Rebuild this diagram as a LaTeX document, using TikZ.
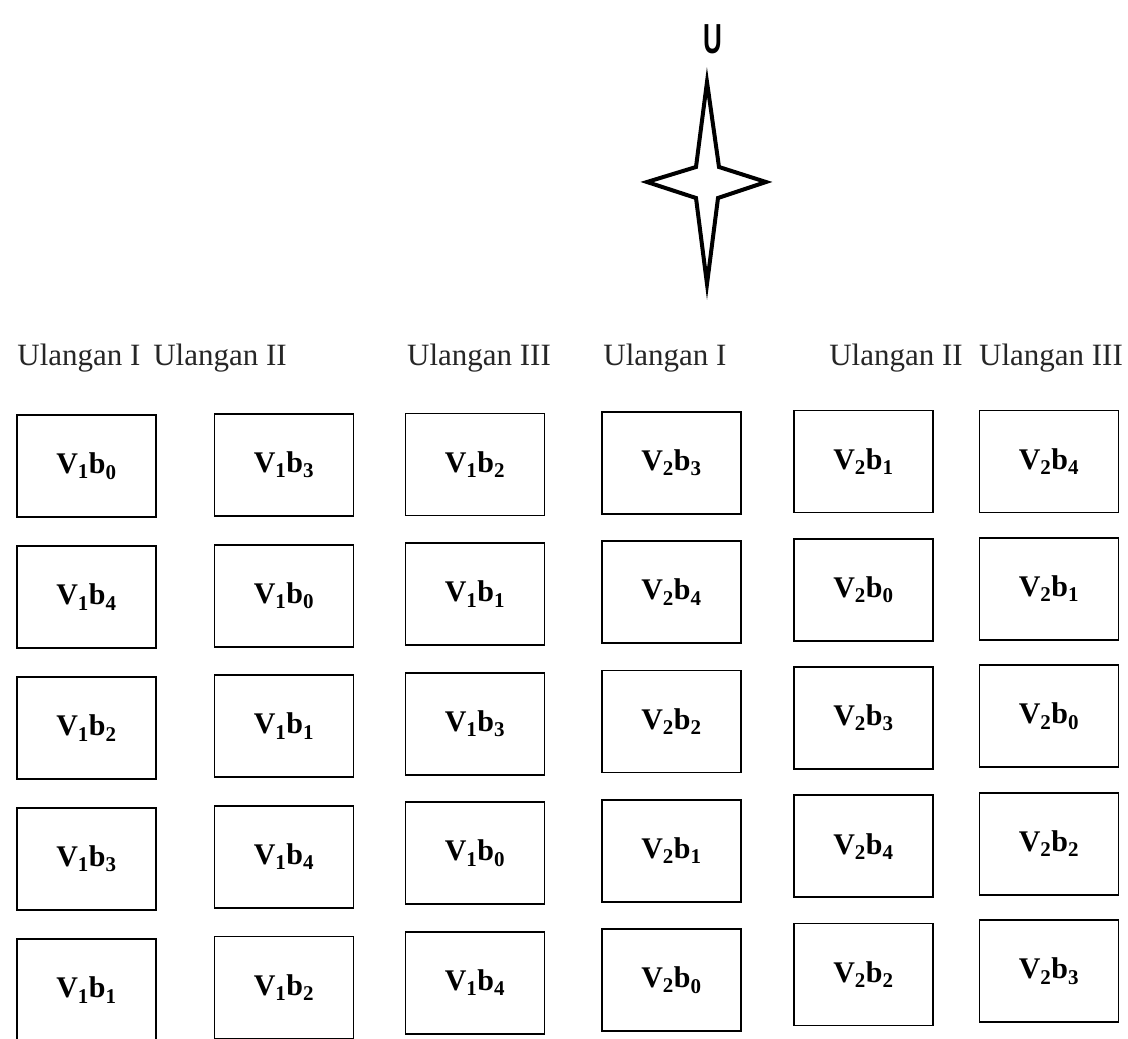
\documentclass[tikz,border=0pt]{standalone}
\usepackage{fontspec}
\setmainfont{Liberation Serif}
\newfontfamily\compassfont{Liberation Sans}
\usetikzlibrary{positioning}

\tikzset{
  plot/.style={draw, line width=1.8pt, minimum width=139pt, minimum height=102pt,
    inner sep=0pt, font=\fontsize{30}{36}\selectfont\bfseries},
  rep/.style={font=\fontsize{31}{37}\selectfont, text=black!85}
}

\begin{document}
\begin{tikzpicture}[x=1pt, y=-1pt]
  \useasboundingbox (0,0) rectangle (1128,1039);

  % --- north arrow ---
  \node[font=\compassfont\bfseries\fontsize{42}{42}\selectfont, xscale=0.62] (north) at (713,39) {U};
  \draw[line width=4pt, line join=miter, fill=white]
    (707,82) -- (719,167) -- (766,182) -- (718,198) -- (707,284)
    -- (696,198) -- (647,182) -- (696,167) -- cycle;

  % --- replication headers ---
  \node[rep] (lab1) at (79,358) {Ulangan I};
  \node[rep] (lab2) at (220,358) {Ulangan II};
  \node[rep] (lab3) at (479,358) {Ulangan III};
  \node[rep] (lab4) at (665,358) {Ulangan I};
  \node[rep] (lab5) at (896,358) {Ulangan II};
  \node[rep] (lab6) at (1051,358) {Ulangan III};

  % --- plots: x centre / first row centre / row pitch / variety / treatments ---
  \foreach \xc/\yt/\dy/\v/\bs [count=\c] in {
      86.5/466/131/1/{0,4,2,3,1},
      284/465/130.6/1/{3,0,1,4,2},
      475/464.5/129.6/1/{2,1,3,0,4},
      671.5/463/129.25/2/{3,4,2,1,0},
      863.5/461.5/128.25/2/{1,0,3,4,2},
      1049/461.5/127.4/2/{4,1,0,2,3}}
    \foreach \b [count=\r] in \bs
      \node[plot] (p\c-\r) at (\xc, \yt+\dy*\r-\dy)
        {V\textsubscript{\v}b\textsubscript{\b}};

\end{tikzpicture}
\end{document}
